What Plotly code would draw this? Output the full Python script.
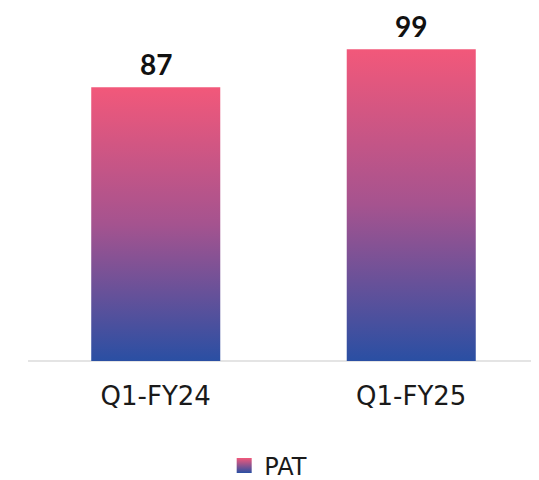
import plotly.graph_objects as go

categories = ["Q1-FY24", "Q1-FY25"]
pat_values = [87, 99]
series_name = "PAT"

BAR_W = 0.505
grad = [[0, "#2a4fa3"], [0.5, "#a5538f"], [1, "#f2587a"]]

fig = go.Figure()
for i, (cat, v) in enumerate(zip(categories, pat_values)):
    fig.add_trace(go.Scatter(
        x=[i - BAR_W / 2, i + BAR_W / 2, i + BAR_W / 2, i - BAR_W / 2, i - BAR_W / 2],
        y=[0, 0, v, v, 0],
        mode="lines", line=dict(width=0),
        fill="toself",
        fillgradient=dict(type="vertical", colorscale=grad),
        name=series_name, legendgroup=series_name, showlegend=False,
        hoverinfo="skip",
    ))

# legend entry with a gradient square
fig.add_trace(go.Scatter(
    x=[None], y=[None], mode="markers",
    marker=dict(symbol="square", size=15, color="#f2587a",
                gradient=dict(type="vertical", color="#2a4fa3")),
    name=series_name, legendgroup=series_name, showlegend=True, hoverinfo="skip",
))

for i, v in enumerate(pat_values):
    fig.add_annotation(x=i, y=v, text=f"<b>{v}</b>", showarrow=False,
                       yanchor="bottom", yshift=5, borderpad=0,
                       font=dict(family="Lato", size=28, color="#111111"))

fig.update_layout(
    width=531, height=472,
    margin=dict(l=20, r=0, t=2, b=119),
    plot_bgcolor="white", paper_bgcolor="white",
    showlegend=True,
    legend=dict(orientation="h", xref="container", x=0.49, xanchor="center",
                yref="container", y=0.03, yanchor="middle",
                font=dict(family="DejaVu Sans", size=24, color="#1a1a1a"),
                itemwidth=30),
    xaxis=dict(range=[-0.5, 1.5], tickvals=list(range(len(categories))), ticktext=categories,
               showgrid=False, zeroline=False, showline=False, automargin=False,
               ticks="outside", ticklen=12, tickcolor="rgba(0,0,0,0)",
               tickfont=dict(family="DejaVu Sans", size=26, color="#1a1a1a"), fixedrange=True),
    yaxis=dict(range=[0, 111.5], showgrid=False, showticklabels=False, automargin=False,
               zeroline=True, zerolinecolor="#e4e4e4", zerolinewidth=2, fixedrange=True),
)

fig.write_html("out.html")
